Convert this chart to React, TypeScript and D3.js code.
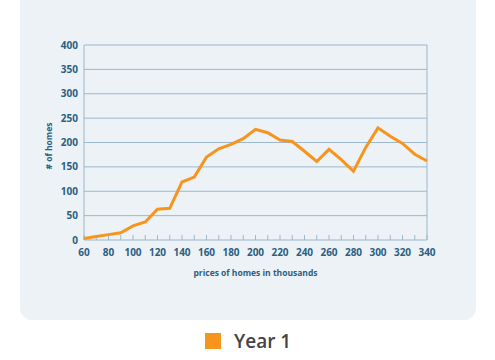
import React, { useEffect, useRef } from 'react';
import * as d3 from 'd3';

const prices = [60, 70, 80, 90, 100, 110, 120, 130, 140, 150, 160, 170, 180, 190, 200, 210, 220, 230, 240, 250, 260, 270, 280, 290, 300, 310, 320, 330, 340];
const homes = [3, 7, 11, 15, 29, 37, 63, 65, 119, 129, 170, 187, 196, 208, 227, 220, 205, 202, 182, 161, 186, 165, 141, 190, 230, 213, 198, 176, 162];
const yTicks = [0, 50, 100, 150, 200, 250, 300, 350, 400];
const xLabels = [60, 80, 100, 120, 140, 160, 180, 200, 220, 240, 260, 280, 300, 320, 340];
const seriesName = 'Year 1';

const App = () => {
	const ref = useRef<SVGSVGElement>(null);
	useEffect(() => drawChart(), []);

	function drawChart() {
		const svg = d3.select(ref.current);
		svg.selectAll('*').remove();
		const left = 84, right = 427, top = 45, bottom = 240;
		const textColor = '#2a5f82';
		const gridColor = '#9bb8cc';
		const font = "'Open Sans', sans-serif";

		svg.append('rect')
			.attr('x', 20).attr('y', -12)
			.attr('width', 456).attr('height', 332)
			.attr('rx', 12)
			.attr('fill', '#edf2f6');

		const x = d3.scaleLinear().domain([60, 340]).range([left, right]);
		const y = d3.scaleLinear().domain([0, 400]).range([bottom, top]);

		// grid
		svg.append('g').selectAll('line')
			.data(yTicks)
			.enter()
			.append('line')
			.attr('x1', left).attr('x2', right)
			.attr('y1', (d) => y(d)).attr('y2', (d) => y(d))
			.attr('stroke', gridColor)
			.attr('stroke-width', 1);

		// axis lines
		svg.append('line')
			.attr('x1', left).attr('x2', left).attr('y1', top).attr('y2', bottom)
			.attr('stroke', gridColor);
		svg.append('line')
			.attr('x1', right).attr('x2', right).attr('y1', top).attr('y2', bottom)
			.attr('stroke', gridColor);

		// x ticks
		svg.append('g').selectAll('line')
			.data(prices)
			.enter()
			.append('line')
			.attr('x1', (d) => x(d)).attr('x2', (d) => x(d))
			.attr('y1', bottom).attr('y2', bottom - 5)
			.attr('stroke', gridColor);

		svg.append('g').selectAll('text')
			.data(yTicks)
			.enter()
			.append('text')
			.text((d) => d)
			.attr('x', left - 6)
			.attr('y', (d) => y(d) + 3.5)
			.attr('text-anchor', 'end')
			.attr('font-family', font)
			.attr('font-weight', 700)
			.attr('font-size', '10px')
			.attr('fill', textColor);

		svg.append('g').selectAll('text')
			.data(xLabels)
			.enter()
			.append('text')
			.text((d) => d)
			.attr('x', (d) => x(d))
			.attr('y', bottom + 16)
			.attr('text-anchor', 'middle')
			.attr('font-family', font)
			.attr('font-weight', 700)
			.attr('font-size', '10px')
			.attr('fill', textColor);

		svg.append('text')
			.text('prices of homes in thousands')
			.attr('x', (left + right) / 2)
			.attr('y', 276)
			.attr('text-anchor', 'middle')
			.attr('font-family', font)
			.attr('font-weight', 700)
			.attr('font-size', '8.5px')
			.attr('fill', textColor);

		svg.append('text')
			.text('# of homes')
			.attr('transform', 'translate(52,146) rotate(-90)')
			.attr('text-anchor', 'middle')
			.attr('font-family', font)
			.attr('font-weight', 700)
			.attr('font-size', '8.5px')
			.attr('fill', textColor);

		const line = d3.line<number>()
			.x((d, i) => x(prices[i]))
			.y((d) => y(d));
		svg.append('path')
			.datum(homes)
			.attr('d', line)
			.attr('fill', 'none')
			.attr('stroke', '#f7941d')
			.attr('stroke-width', 3)
			.attr('stroke-linejoin', 'miter');

		// legend
		svg.append('rect')
			.attr('x', 205).attr('y', 333)
			.attr('width', 16).attr('height', 16)
			.attr('fill', '#f7941d');
		svg.append('text')
			.text(seriesName)
			.attr('x', 234)
			.attr('y', 347.5)
			.attr('font-family', font)
			.attr('font-weight', 600)
			.attr('font-size', '19px')
			.attr('fill', '#444444');
	}

	return (
		<svg ref={ref} width={495} height={360} style={{ position: 'absolute', left: 0, top: 0 }}></svg>
	);
};

export default App;
